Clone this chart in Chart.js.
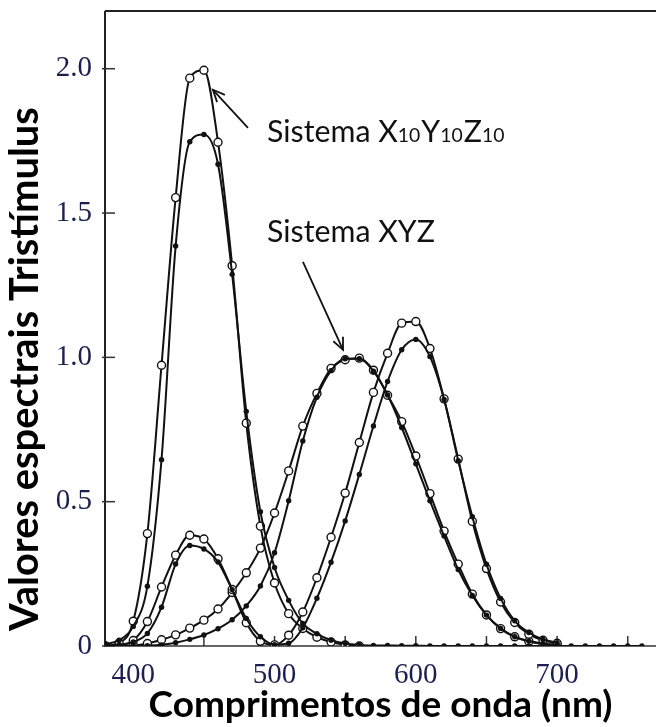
<!DOCTYPE html>
<html><head><meta charset="utf-8">
<script src="https://cdn.jsdelivr.net/npm/chart.js@4/dist/chart.umd.min.js"></script>
<style>html,body{margin:0;padding:0;background:#fff;overflow:hidden}canvas{display:block}</style>
</head><body>
<canvas id="c" width="656" height="727" style="width:656px;height:727px"></canvas>
<script>
// ---- data ----
const wavelengths = [380,390,400,410,420,430,440,450,460,470,480,490,500,510,520,530,540,550,560,570,580,590,600,610,620,630,640,650,660,670,680,690,700,710,720,730,740,750,760];
// Sistema X10Y10Z10 (open circles)
const zBar10 = [0.0007,0.0105,0.0860,0.3894,0.9725,1.5535,1.9673,1.9948,1.7454,1.3176,0.7721,0.4153,0.2185,0.1120,0.0607,0.0305,0.0137,0.0040,0.0000,null,null,null,null,null,null,null,null,null,null,null,null,null,null,null,null,null,null,null,null];
const xBar10 = [0.0002,0.0024,0.0191,0.0847,0.2045,0.3147,0.3837,0.3707,0.3023,0.1956,0.0805,0.0162,0.0038,0.0375,0.1177,0.2365,0.3768,0.5298,0.7052,0.8787,1.0142,1.1185,1.1240,1.0305,0.8563,0.6475,0.4316,0.2683,0.1526,0.0813,0.0409,0.0199,0.0096,null,null,null,null,null,null];
const yBar10 = [0.0000,0.0003,0.0020,0.0088,0.0214,0.0387,0.0621,0.0895,0.1282,0.1852,0.2536,0.3391,0.4608,0.6067,0.7618,0.8752,0.9620,0.9918,0.9973,0.9556,0.8689,0.7774,0.6583,0.5280,0.3981,0.2835,0.1798,0.1076,0.0603,0.0318,0.0159,0.0077,0.0037,null,null,null,null,null,null];
// Sistema XYZ (filled dots)
const zBar = [0.0065,0.0201,0.0679,0.2074,0.6456,1.3856,1.7471,1.7721,1.6692,1.2876,0.8130,0.4652,0.2720,0.1582,0.0783,0.0422,0.0203,0.0088,0.0039,0.0021,0.0017,0.0011,0.0008,0.0003,0.0002,0.0001,0,0,0,0,0,0,0,0,0,0,0,0,0];
const xBar = [0.0014,0.0042,0.0143,0.0435,0.1344,0.2839,0.3483,0.3362,0.2908,0.1954,0.0956,0.0320,0.0049,0.0093,0.0633,0.1655,0.2904,0.4334,0.5945,0.7621,0.9163,1.0263,1.0622,1.0026,0.8544,0.6424,0.4479,0.2835,0.1649,0.0874,0.0468,0.0227,0.0114,null,null,null,null,null,null];
const yBar = [0.0000,0.0001,0.0004,0.0012,0.0040,0.0116,0.0230,0.0380,0.0600,0.0910,0.1390,0.2080,0.3230,0.5030,0.7100,0.8620,0.9540,0.9950,0.9950,0.9520,0.8700,0.7570,0.6310,0.5030,0.3810,0.2650,0.1750,0.1070,0.0610,0.0320,0.0170,0.0082,0.0041,null,null,null,null,null,null];

const xTickLabels = [400,500,600,700];
const xTickMarks = [400,450,500,550,600,650,700,750];
const yTickValues = [0,0.5,1.0,1.5,2.0];
const yTickLabels = ['0','0.5','1.0','1.5','2.0'];
const xTitle = 'Comprimentos de onda (nm)';
const yTitle = 'Valores espectrais Tristímulus';
const label10 = [['Sistema X',0],['10',1],['Y',0],['10',1],['Z',0],['10',1]];
const labelXYZ = [['Sistema XYZ',0]];
// annotation anchors in data units [nm, value]
const label10Pos = [494.7, 1.746];
const labelXYZPos = [494.7, 1.400];
const arrow10 = [[481.2, 1.795],[456.4, 1.927]];
const arrowXYZ = [[520.1, 1.331],[548.5, 1.026]];

// ---- fonts ----
const sansFam = "Lato, 'Open Sans', sans-serif";
const serifFam = "'Liberation Serif', 'DejaVu Serif', serif";
const mctx = document.createElement('canvas').getContext('2d');
function fitSize(text, weight, target){ mctx.font = weight+' 100px '+sansFam; return 100*target/mctx.measureText(text).width; }
const xTitleSize = fitSize(xTitle,'bold',464);
const yTitleSize = fitSize(yTitle,'bold',524);
const annSize = fitSize('Sistema XYZ','normal',168);
const subSize = annSize*0.64;

function pts(arr){ const o=[]; wavelengths.forEach((w,i)=>{ if(arr[i]!==null) o.push({x:w,y:arr[i]}); }); return o; }
const ink = '#111';
function openDs(arr,label){ return {label, data:pts(arr), borderColor:ink, borderWidth:2, pointRadius:4, pointBackgroundColor:'#fff', pointBorderColor:ink, pointBorderWidth:1.4, cubicInterpolationMode:'monotone', fill:false}; }
function fillDs(arr,label){ return {label, data:pts(arr), borderColor:ink, borderWidth:2, pointRadius:2.7, pointBackgroundColor:ink, pointBorderColor:ink, pointBorderWidth:0, cubicInterpolationMode:'monotone', fill:false}; }

const framePlugin = {
  id:'frame',
  beforeDatasetsDraw(chart){
    const {ctx, chartArea:a, scales:{x,y}} = chart;
    ctx.save();
    ctx.lineCap='butt';
    ctx.strokeStyle='#222'; ctx.lineWidth=2;
    ctx.beginPath(); ctx.moveTo(a.left, a.top); ctx.lineTo(a.right, a.top); ctx.stroke();
    ctx.beginPath(); ctx.moveTo(a.left, a.top); ctx.lineTo(a.left, a.bottom+1); ctx.stroke();
    ctx.strokeStyle='#666';
    ctx.beginPath(); ctx.moveTo(a.left, a.bottom); ctx.lineTo(a.right, a.bottom); ctx.stroke();
    ctx.strokeStyle='#333'; ctx.lineWidth=1.5;
    xTickMarks.forEach(v=>{ const px=x.getPixelForValue(v); ctx.beginPath(); ctx.moveTo(px,a.bottom); ctx.lineTo(px,a.bottom-10); ctx.stroke(); });
    yTickValues.forEach(v=>{ const py=y.getPixelForValue(v); ctx.beginPath(); ctx.moveTo(a.left-3,py); ctx.lineTo(a.left+10,py); ctx.stroke(); });
    ctx.restore();
  },
  afterDatasetsDraw(chart){
    const {ctx, scales:{x,y}} = chart;
    ctx.save();
    ctx.fillStyle=ink; ctx.textBaseline='alphabetic'; ctx.textAlign='left';
    function drawParts(parts,pos){
      let px=x.getPixelForValue(pos[0]); const py=y.getPixelForValue(pos[1]);
      parts.forEach(([t,sub])=>{ ctx.font=(sub?subSize:annSize)+'px '+sansFam; ctx.fillText(t,px,py); px+=ctx.measureText(t).width+(sub?1:0); });
    }
    drawParts(label10,label10Pos);
    drawParts(labelXYZ,labelXYZPos);
    function arrow(seg){
      const x0=x.getPixelForValue(seg[0][0]), y0=y.getPixelForValue(seg[0][1]);
      const x1=x.getPixelForValue(seg[1][0]), y1=y.getPixelForValue(seg[1][1]);
      ctx.strokeStyle=ink; ctx.lineWidth=1.8;
      ctx.beginPath(); ctx.moveTo(x0,y0); ctx.lineTo(x1,y1); ctx.stroke();
      const ang=Math.atan2(y1-y0,x1-x0), L=13, s=0.42;
      ctx.beginPath();
      ctx.moveTo(x1-L*Math.cos(ang-s), y1-L*Math.sin(ang-s));
      ctx.lineTo(x1,y1);
      ctx.lineTo(x1-L*Math.cos(ang+s), y1-L*Math.sin(ang+s));
      ctx.stroke();
    }
    arrow(arrow10); arrow(arrowXYZ);
    ctx.restore();
  },
  afterDraw(chart){
    const {ctx} = chart;
    ctx.save();
    ctx.translate(38, 369); ctx.rotate(-Math.PI/2);
    ctx.font='bold '+yTitleSize+'px '+sansFam; ctx.fillStyle='#000';
    ctx.textAlign='center'; ctx.textBaseline='alphabetic';
    ctx.fillText(yTitle,0,0);
    ctx.restore();
  }
};

function noPad(s){ s.paddingTop=0; s.paddingBottom=0; s.paddingLeft=0; s.paddingRight=0; }

new Chart(document.getElementById('c'), {
  type:'line',
  data:{ datasets:[ fillDs(zBar,'z 1931'), fillDs(xBar,'x 1931'), fillDs(yBar,'y 1931'), openDs(zBar10,'z10'), openDs(xBar10,'x10'), openDs(yBar10,'y10') ] },
  options:{
    responsive:false, animation:false, devicePixelRatio:1,
    layout:{autoPadding:false, padding:{top:11,right:0,left:0,bottom:0}},
    plugins:{legend:{display:false}, tooltip:{enabled:false}},
    scales:{
      x:{ type:'linear', min:380, max:770,
        grid:{display:false, drawTicks:false}, border:{display:false},
        afterBuildTicks:s=>{ s.ticks = xTickLabels.map(v=>({value:v})); },
        afterFit:s=>{ s.height = 81; noPad(s); },
        ticks:{ color:'#1b2050', padding:12, maxRotation:0, autoSkip:false, font:{family:serifFam, size:29}, callback:v=>String(v) },
        title:{ display:true, text:xTitle, color:'#000', font:{family:sansFam, weight:'bold', size:xTitleSize, lineHeight:1}, padding:{top:0,bottom:3} }
      },
      y:{ type:'linear', min:0, max:2.2,
        grid:{display:false, drawTicks:false}, border:{display:false},
        afterBuildTicks:s=>{ s.ticks = yTickValues.map(v=>({value:v})); },
        afterFit:s=>{ s.width = 105; noPad(s); },
        ticks:{ color:'#1b2050', padding:13, autoSkip:false, font:{family:serifFam, size:29}, callback:(v)=>{ const i=yTickValues.indexOf(v); return i>=0?yTickLabels[i]:''; } }
      }
    }
  },
  plugins:[framePlugin]
});
</script>
</body></html>
